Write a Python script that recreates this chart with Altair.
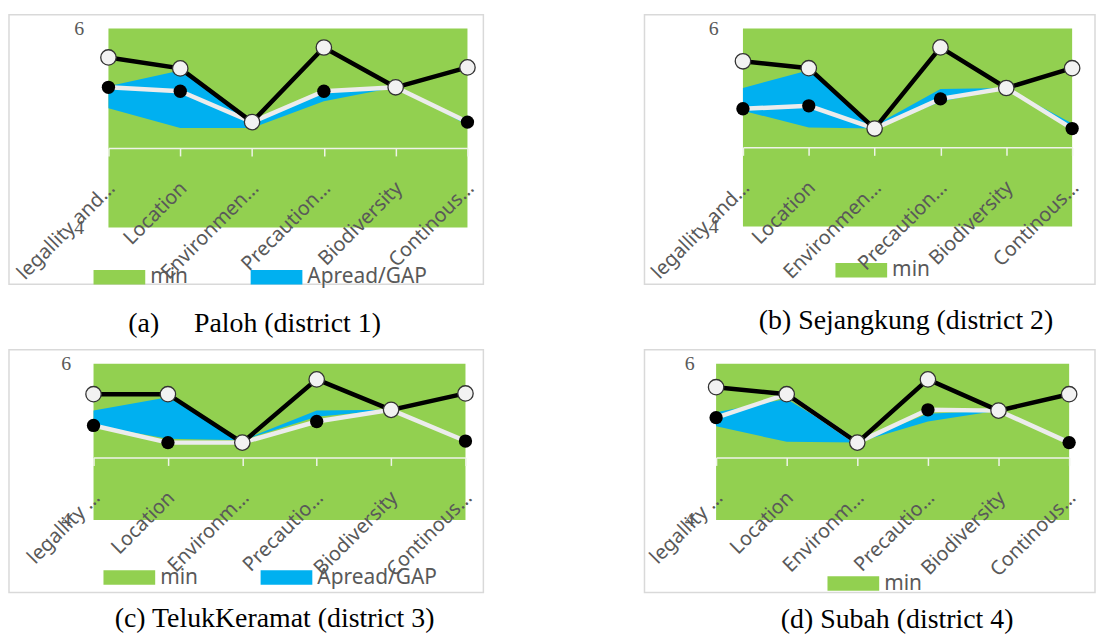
import json
import altair as alt
import pandas as pd

# ---------------- data ----------------
CATS_AB = ["legallity and…", "Location", "Environmen…", "Precaution…", "Biodiversity", "Continous…"]
CATS_CD = ["legallity …", "Location", "Environm…", "Precautio…", "Biodiversity", "Continous…"]
SERIES = ["min", "Apread/GAP"]
Y_DOMAIN = [4, 6]
Y_TICKS = [4, 6]
AXIS_CROSS = 4.8

# (a) Paloh
A_MAX = [5.71, 5.60, 5.06, 5.81, 5.41, 5.61]
A_ACT = [5.41, 5.37, 5.06, 5.37, 5.41, 5.06]
A_HI = [5.42, 5.58, 5.05, 5.39, 5.41, 5.06]
A_LO = [5.20, 5.00, 5.00, 5.27, 5.41, 5.03]
# (b) Sejangkung
B_MAX = [5.67, 5.60, 4.99, 5.81, 5.40, 5.60]
B_ACT = [5.19, 5.22, 4.99, 5.29, 5.40, 4.99]
B_HI = [5.40, 5.58, 5.02, 5.39, 5.40, 5.04]
B_LO = [5.17, 5.00, 4.99, 5.26, 5.40, 5.00]
# (c) TelukKeramat
C_MAX = [5.61, 5.61, 4.99, 5.80, 5.41, 5.62]
C_ACT = [5.21, 4.99, 4.99, 5.26, 5.41, 5.01]
C_HI = [5.40, 5.57, 5.02, 5.40, 5.41, 5.03]
C_LO = [5.21, 5.04, 5.02, 5.32, 5.41, 5.00]
# (d) Subah
D_MAX = [5.70, 5.61, 4.99, 5.80, 5.40, 5.61]
D_ACT = [5.31, 5.61, 4.99, 5.41, 5.40, 4.99]
D_HI = [5.38, 5.55, 5.00, 5.36, 5.40, 5.02]
D_LO = [5.20, 5.00, 4.99, 5.26, 5.40, 5.00]

CAPTIONS = [
    "(a)\u00a0\u00a0\u00a0\u00a0\u00a0Paloh (district 1)",
    "(b) Sejangkung (district 2)",
    "(c) TelukKeramat (district 3)",
    "(d) Subah (district 4)",
]

# ---------------- style ----------------
GREEN = "#92D050"
BLUE = "#00B0F0"
GRAY_TXT = "#595959"
AXIS_LIGHT = "#eef3e8"
WHITE_LINE = "#ececec"
SWATCH = "M-1,-0.28H1V0.28H-1Z"
SW = 52  # swatch width (px)

GEOM = {
    "a": dict(w=477, h=271, xr=[100, 461], yr=[214, 14], ypad=25, lx=85, lcy=264, cdx=8.5, coff=23),
    "b": dict(w=453, h=271, xr=[99, 430], yr=[213, 14], ypad=25, lx=192, lcy=257, cdx=36.5, coff=23),
    "c": dict(w=477, h=244, xr=[85, 459], yr=[171, 14], ypad=23, lx=95, lcy=229, cdx=28.5, coff=13),
    "d": dict(w=453, h=244, xr=[72, 427], yr=[171, 14], ypad=22, lx=184, lcy=235, cdx=27.5, coff=13),
}


def panel(cats, vmax, vact, ghi, glo, caption, legend_vals, g):
    idx = list(range(len(cats)))
    df = pd.DataFrame({"i": idx, "cat": cats, "max": vmax, "act": vact,
                       "hi": ghi, "lo": glo, "series": SERIES[1]})
    bg = pd.DataFrame({"x0": [idx[0]], "x1": [idx[-1]], "y0": [Y_DOMAIN[0]],
                       "y1": [Y_DOMAIN[1]], "series": [SERIES[0]]})
    W, H = g["w"], g["h"]
    xr, yr = g["xr"], g["yr"]
    frac = (AXIS_CROSS - Y_DOMAIN[0]) / (Y_DOMAIN[1] - Y_DOMAIN[0])
    y_cross_px = yr[0] - frac * (yr[0] - yr[1])

    xscale = alt.Scale(domain=[idx[0], idx[-1]], range=xr, nice=False, zero=False)
    yscale = alt.Scale(domain=Y_DOMAIN, range=yr, nice=False, zero=False)
    cscale = alt.Scale(domain=SERIES, range=[GREEN, BLUE])

    xaxis = alt.Axis(values=idx, labelExpr=json.dumps(cats) + "[datum.value]",
                     labelAngle=-45, labelAlign="right", labelBaseline="middle",
                     labelFlush=False, labelOverlap=False, labelFont="Noto Sans",
                     labelFontSize=20, labelColor=GRAY_TXT, labelPadding=29, labelOffset=3,
                     tickSize=8, tickColor=AXIS_LIGHT, tickWidth=1.5,
                     domainColor=AXIS_LIGHT, domainWidth=1.5, grid=False, title=None,
                     offset=y_cross_px - H, zindex=1)
    yaxis = alt.Axis(values=Y_TICKS, format="d", labelFont="Liberation Serif",
                     labelFontSize=20, labelColor=GRAY_TXT, labelPadding=g["ypad"],
                     domain=False, ticks=False, grid=False, title=None,
                     offset=-xr[0], labelFlush=False)
    legend = alt.Legend(values=legend_vals, orient="none", legendX=g["lx"],
                        legendY=g["lcy"] - SW / 2, direction="horizontal",
                        symbolType=SWATCH, symbolSize=SW * SW, symbolStrokeWidth=0,
                        symbolOpacity=1, labelFont="Noto Sans", labelFontSize=21,
                        labelColor=GRAY_TXT, labelOffset=5, columnPadding=62,
                        title=None, padding=0)
    color = alt.Color("series:N", scale=cscale, legend=legend)

    green = alt.Chart(bg).mark_rect(opacity=1).encode(
        x=alt.X("x0:Q", scale=xscale, axis=xaxis), x2="x1:Q",
        y=alt.Y("y0:Q", scale=yscale, axis=yaxis), y2="y1:Q", color=color)
    area = alt.Chart(df).mark_area(opacity=1, interpolate="linear").encode(
        x=alt.X("i:Q", scale=xscale, axis=xaxis),
        y=alt.Y("hi:Q", scale=yscale, axis=yaxis), y2="lo:Q", color=color)
    wline = alt.Chart(df).mark_line(color=WHITE_LINE, strokeWidth=4.5).encode(
        x=alt.X("i:Q", scale=xscale, axis=xaxis), y=alt.Y("act:Q", scale=yscale, axis=yaxis))
    bline = alt.Chart(df).mark_line(color="black", strokeWidth=4.5).encode(
        x=alt.X("i:Q", scale=xscale, axis=xaxis), y=alt.Y("max:Q", scale=yscale, axis=yaxis))
    dots = alt.Chart(df).mark_circle(size=180, color="black", opacity=1).encode(
        x=alt.X("i:Q", scale=xscale, axis=xaxis), y=alt.Y("act:Q", scale=yscale, axis=yaxis))
    rings = alt.Chart(df).mark_point(shape="circle", filled=True, size=240, fill="#f2f2f2",
                                     stroke="#333333", strokeWidth=1.3, opacity=1).encode(
        x=alt.X("i:Q", scale=xscale, axis=xaxis), y=alt.Y("max:Q", scale=yscale, axis=yaxis))

    return alt.layer(green, area, wline, bline, dots, rings).properties(
        width=W, height=H,
        title=alt.TitleParams(text=caption, orient="bottom", anchor="middle", frame="group",
                              offset=g["coff"], dx=g["cdx"], baseline="top",
                              font="Liberation Serif", fontSize=28, fontWeight="normal",
                              color="black"))


pa = panel(CATS_AB, A_MAX, A_ACT, A_HI, A_LO, CAPTIONS[0], SERIES, GEOM["a"])
pb = panel(CATS_AB, B_MAX, B_ACT, B_HI, B_LO, CAPTIONS[1], SERIES[:1], GEOM["b"])
pc = panel(CATS_CD, C_MAX, C_ACT, C_HI, C_LO, CAPTIONS[2], SERIES, GEOM["c"])
pd_ = panel(CATS_CD, D_MAX, D_ACT, D_HI, D_LO, CAPTIONS[3], SERIES[:1], GEOM["d"])

chart = alt.concat(
    pa, pb, pc, pd_, columns=2,
    spacing=alt.RowColnumber(row=66, column=162),
    bounds="flush",
).resolve_scale(color="independent").resolve_legend(color="independent").configure_view(
    stroke="#d9d9d9", strokeWidth=1.5, fill="white"
).properties(padding={"left": 0, "top": 4, "right": 0, "bottom": 0})

chart.save("out.html", embed_options={"renderer": "svg", "actions": False})
